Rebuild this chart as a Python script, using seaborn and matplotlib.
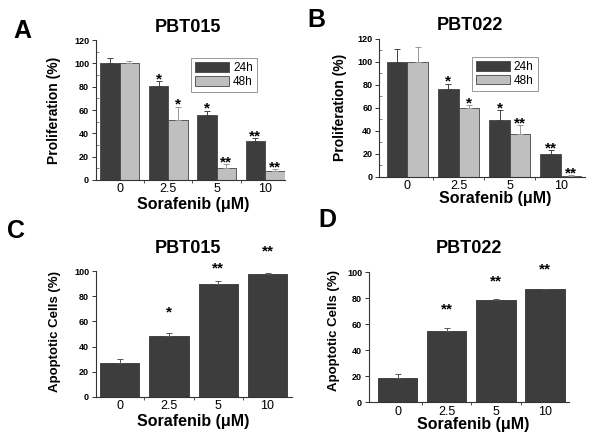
import matplotlib
matplotlib.use("Agg")
import matplotlib.pyplot as plt
from matplotlib.ticker import MultipleLocator
import seaborn as sns
import pandas as pd
import numpy as np

# =========================
# DATA
# =========================
doses = ["0", "2.5", "5", "10"]
times = ["24h", "48h"]

# proliferation, PBT015
a_24h = [100, 81, 56, 33]
a_24h_err = [5, 3.5, 3.5, 3]
a_48h = [100, 51, 10.5, 8]
a_48h_err = [2, 12, 3, 1]
a_stars_24h = ["", "*", "*", "**"]
a_stars_48h = ["", "*", "**", "**"]

# proliferation, PBT022
b_24h = [100, 76, 49, 20.3]
b_24h_err = [11, 5, 9, 3]
b_48h = [100, 60, 37.5, 1]
b_48h_err = [13, 2, 7.5, 0.3]
b_stars_24h = ["", "*", "*", "**"]
b_stars_48h = ["", "*", "**", "**"]

# apoptosis, PBT015 / PBT022
c_apop = [27, 48, 90, 98]
c_apop_err = [3, 2.7, 2, 0.7]
c_stars = ["", "*", "**", "**"]
c_star_y = [0, 71, 106, 119]

d_apop = [18.4, 54.5, 79, 87]
d_apop_err = [3, 3, 0.8, 0.4]
d_stars = ["", "**", "**", "**"]
d_star_y = [0, 75, 97, 106]

DARK = "#3d3d3d"
LIGHT = "#bfbfbf"

sns.set_style("ticks")
plt.rcParams["font.family"] = ["Liberation Sans", "DejaVu Sans"]
plt.rcParams["text.color"] = "black"
plt.rcParams["axes.labelcolor"] = "black"
plt.rcParams["xtick.labelcolor"] = "black"
plt.rcParams["ytick.labelcolor"] = "black"

fig = plt.figure(figsize=(6, 4.4), dpi=100)


def style_axes(ax, ymax, major, minor, xlim):
    sns.despine(ax=ax)
    for s in ["left", "bottom"]:
        ax.spines[s].set_linewidth(0.8)
        ax.spines[s].set_color("#333333")
    ax.set_ylim(0, ymax)
    ax.set_xlim(*xlim)
    ax.yaxis.set_major_locator(MultipleLocator(major))
    ax.yaxis.set_minor_locator(MultipleLocator(minor))
    ax.tick_params(axis="y", which="major", direction="out", length=3, width=0.7,
                   labelsize=6.5, pad=2, color="#333333")
    ax.tick_params(axis="y", which="minor", direction="in", length=2, width=0.5,
                   color="#555555")
    ax.set_xticks([0.5, 1.5, 2.5], minor=True)
    ax.tick_params(axis="x", which="major", length=0, labelsize=9, pad=2.5)
    ax.tick_params(axis="x", which="minor", direction="out", length=2.5, width=0.6,
                   color="#333333")
    plt.setp(ax.get_yticklabels(), fontweight="bold")


def add_err(ax, bars, vals, errs, color):
    xs = [p.get_x() + p.get_width() / 2 for p in bars]
    ax.errorbar(xs, vals, yerr=[np.zeros(len(errs)), errs], fmt="none",
                ecolor=color, elinewidth=0.7, capsize=2, capthick=0.7)
    return xs


def grouped_panel(rect, v24, e24, v48, e48, s24, s48, xlim, legend_xy):
    ax = fig.add_axes(rect)
    df = pd.DataFrame({
        "dose": doses * 2,
        "time": [times[0]] * 4 + [times[1]] * 4,
        "value": v24 + v48,
    })
    sns.barplot(data=df, x="dose", y="value", hue="time", order=doses,
                hue_order=times, palette=[DARK, LIGHT], errorbar=None,
                edgecolor="#444444", linewidth=0.6, ax=ax)
    bars = ax.patches[:8]
    dark_bars, light_bars = bars[:4], bars[4:]
    xs24 = add_err(ax, dark_bars, v24, e24, "#444444")
    xs48 = add_err(ax, light_bars, v48, e48, "#999999")
    for xs, vals, errs, stars in [(xs24, v24, e24, s24), (xs48, v48, e48, s48)]:
        for x, v, e, s in zip(xs, vals, errs, stars):
            if s:
                ax.annotate(s, (x, v + e), xytext=(0, -1.5), textcoords="offset points",
                            ha="center", va="baseline", fontsize=11, fontweight="bold")
    style_axes(ax, 120, 20, 10, xlim)
    handles, labels = ax.get_legend_handles_labels()
    ax.legend(handles[:2], times, loc="upper left", bbox_to_anchor=legend_xy,
              borderaxespad=0, fontsize=8.5, frameon=True, fancybox=False,
              edgecolor="#888888", framealpha=1, handlelength=2.9, handleheight=0.9,
              labelspacing=0.15, handletextpad=0.3, borderpad=0.35)
    ax.get_legend().get_frame().set_linewidth(0.6)
    ax.set_ylabel("Proliferation (%)", fontsize=10, fontweight="bold")
    ax.set_xlabel("Sorafenib (\u03bcM)", fontsize=11.5, fontweight="bold")
    return ax


def single_panel(rect, vals, errs, stars, star_y, xlim):
    ax = fig.add_axes(rect)
    df = pd.DataFrame({"dose": doses, "value": vals})
    sns.barplot(data=df, x="dose", y="value", order=doses, color=DARK,
                saturation=1, errorbar=None, edgecolor="#333333", linewidth=0.6,
                width=0.8, ax=ax)
    xs = add_err(ax, ax.patches[:4], vals, errs, "#555555")
    for x, s, y in zip(xs, stars, star_y):
        if s:
            ax.annotate(s, (x, y), xytext=(0, -6.3), textcoords="offset points",
                        ha="center", va="baseline", fontsize=11, fontweight="bold",
                        annotation_clip=False)
    style_axes(ax, 100, 20, 10, xlim)
    ax.tick_params(axis="y", which="minor", length=0)
    ax.set_ylabel("Apoptotic Cells (%)", fontsize=9.5, fontweight="bold")
    ax.set_xlabel("Sorafenib (\u03bcM)", fontsize=11.5, fontweight="bold")
    return ax


# =========================
# PANELS
# =========================
ax_a = grouped_panel([0.16, 0.591, 0.315, 0.318], a_24h, a_24h_err, a_48h, a_48h_err,
                     a_stars_24h, a_stars_48h, (-0.49, 3.41), (0.503, 0.871))
ax_b = grouped_panel([0.632, 0.598, 0.343, 0.314], b_24h, b_24h_err, b_48h, b_48h_err,
                     b_stars_24h, b_stars_48h, (-0.55, 3.47), (0.451, 0.87))
ax_c = single_panel([0.16, 0.098, 0.327, 0.286], c_apop, c_apop_err, c_stars, c_star_y,
                    (-0.48, 3.5))
ax_d = single_panel([0.615, 0.086, 0.333, 0.295], d_apop, d_apop_err, d_stars, d_star_y,
                    (-0.58, 3.48))

ax_a.yaxis.set_label_coords(-0.185, 0.5)
ax_b.yaxis.set_label_coords(-0.155, 0.5)
ax_c.yaxis.set_label_coords(-0.176, 0.518)
ax_d.yaxis.set_label_coords(-0.145, 0.55)
ax_a.xaxis.set_label_coords(0.513, -0.125)
ax_b.xaxis.set_label_coords(0.563, -0.105)
ax_c.xaxis.set_label_coords(0.495, -0.14)
ax_d.xaxis.set_label_coords(0.52, -0.118)

# titles and panel letters
for x, y, t in [(0.313, 0.927, "PBT015"), (0.783, 0.932, "PBT022"),
                (0.313, 0.425, "PBT015"), (0.782, 0.425, "PBT022")]:
    fig.text(x, y, t, ha="center", va="baseline", fontsize=13, fontweight="bold")
for x, y, t in [(0.037, 0.914, "A"), (0.527, 0.939, "B"),
                (0.027, 0.459, "C"), (0.545, 0.484, "D")]:
    fig.text(x, y, t, ha="center", va="baseline", fontsize=18, fontweight="bold")

fig.savefig("out.png", dpi=100)
